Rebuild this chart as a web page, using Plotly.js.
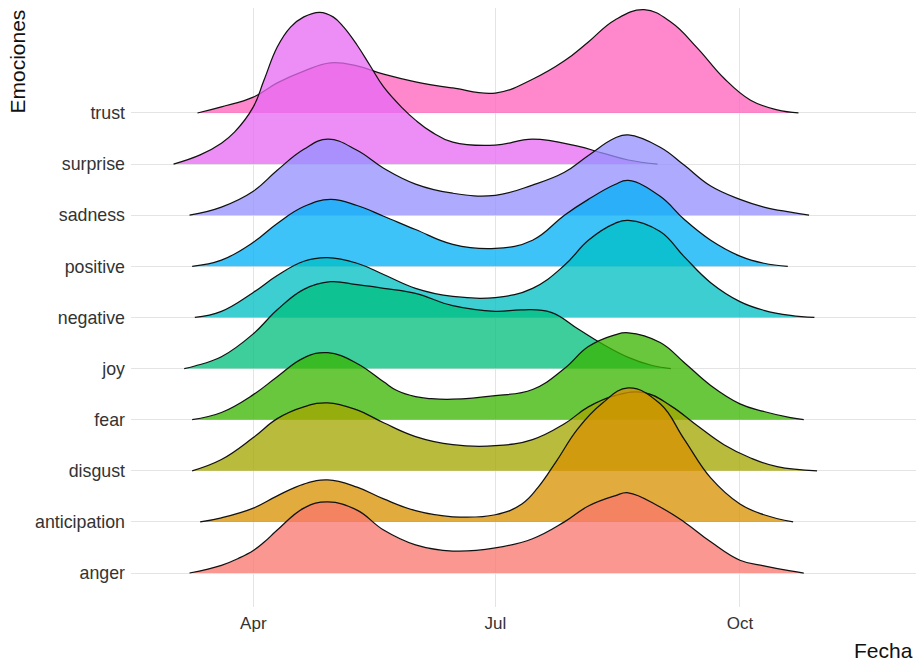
<!DOCTYPE html>
<html>
<head>
<meta charset="utf-8">
<script src="https://cdn.plot.ly/plotly-3.0.1.min.js"></script>
<style>html,body{margin:0;padding:0;background:#fff;}</style>
</head>
<body>
<div id="chart" style="width:916px;height:664px;"></div>
<script>
// Categories (bottom to top)
const emociones = ['anger','anticipation','disgust','fear','joy','negative','positive','sadness','surprise','trust'];
const colores = ['#F8766D','#D89000','#A3A500','#39B600','#00BF7D','#00BFC4','#00B0F6','#9590FF','#E76BF3','#FF62BC'];

// X axis ticks
const ticksFecha = ['2020-04-01','2020-07-01','2020-10-01'];
const etiquetasFecha = ['Apr','Jul','Oct'];

// Ridge densities (height in category units above each baseline)
const fechasAnger = ['2020-03-08','2020-03-20','2020-03-27','2020-04-01','2020-04-05','2020-04-10','2020-04-20','2020-04-29','2020-05-10','2020-05-20','2020-06-01','2020-06-15','2020-07-01','2020-07-15','2020-07-27','2020-08-05','2020-08-15','2020-08-20','2020-09-01','2020-09-10','2020-09-20','2020-10-01','2020-10-10','2020-10-20','2020-10-25'];
const densAnger = [0,0.15,0.30,0.44,0.60,0.84,1.27,1.39,1.23,0.84,0.55,0.43,0.49,0.67,1.00,1.31,1.51,1.57,1.29,1.00,0.61,0.25,0.14,0.04,0];

const fechasAnticipation = ['2020-03-12','2020-03-20','2020-04-01','2020-04-10','2020-04-20','2020-04-29','2020-05-10','2020-05-20','2020-06-01','2020-06-15','2020-07-01','2020-07-11','2020-07-17','2020-07-24','2020-08-01','2020-08-10','2020-08-20','2020-09-01','2020-09-10','2020-09-20','2020-10-01','2020-10-10','2020-10-21'];
const densAnticipation = [0,0.08,0.27,0.51,0.74,0.82,0.68,0.45,0.22,0.10,0.14,0.35,0.67,1.19,1.82,2.31,2.62,2.31,1.62,0.86,0.35,0.14,0];

const fechasDisgust = ['2020-03-09','2020-03-20','2020-04-01','2020-04-10','2020-04-20','2020-04-29','2020-05-10','2020-05-20','2020-06-01','2020-06-15','2020-07-01','2020-07-15','2020-07-27','2020-08-05','2020-08-15','2020-08-26','2020-09-05','2020-09-15','2020-09-25','2020-10-05','2020-10-15','2020-10-30'];
const densDisgust = [0,0.22,0.65,1.02,1.25,1.33,1.19,0.94,0.67,0.51,0.49,0.61,0.92,1.25,1.47,1.53,1.27,0.88,0.51,0.25,0.08,0];

const fechasFear = ['2020-03-09','2020-03-20','2020-04-01','2020-04-10','2020-04-20','2020-04-29','2020-05-10','2020-05-20','2020-05-25','2020-06-01','2020-06-07','2020-06-15','2020-07-01','2020-07-15','2020-07-27','2020-08-05','2020-08-15','2020-08-20','2020-09-01','2020-09-10','2020-09-20','2020-10-01','2020-10-10','2020-10-20','2020-10-25'];
const densFear = [0,0.14,0.49,0.84,1.21,1.31,1.10,0.74,0.57,0.45,0.41,0.40,0.47,0.59,1.00,1.43,1.66,1.70,1.51,1.12,0.67,0.31,0.16,0.04,0];

const fechasJoy = ['2020-03-06','2020-03-10','2020-03-20','2020-04-01','2020-04-10','2020-04-20','2020-04-30','2020-05-10','2020-05-20','2020-06-01','2020-06-15','2020-07-01','2020-07-11','2020-07-22','2020-08-01','2020-08-10','2020-08-20','2020-08-29','2020-09-05'];
const densJoy = [0,0.05,0.23,0.68,1.15,1.55,1.70,1.64,1.57,1.47,1.23,1.12,1.15,1.10,0.78,0.49,0.22,0.06,0];

const fechasNegative = ['2020-03-10','2020-03-20','2020-04-01','2020-04-10','2020-04-20','2020-04-29','2020-05-10','2020-05-20','2020-06-01','2020-06-15','2020-07-01','2020-07-15','2020-07-27','2020-08-05','2020-08-15','2020-08-20','2020-09-01','2020-09-10','2020-09-20','2020-10-01','2020-10-10','2020-10-20','2020-10-29'];
const densNegative = [0,0.12,0.49,0.82,1.10,1.17,1.06,0.84,0.57,0.41,0.39,0.57,1.02,1.51,1.84,1.90,1.68,1.19,0.68,0.31,0.14,0.04,0];

const fechasPositive = ['2020-03-09','2020-03-20','2020-04-01','2020-04-10','2020-04-20','2020-04-30','2020-05-10','2020-05-20','2020-06-01','2020-06-15','2020-07-01','2020-07-15','2020-07-27','2020-08-05','2020-08-15','2020-08-20','2020-09-01','2020-09-10','2020-09-20','2020-10-01','2020-10-10','2020-10-19'];
const densPositive = [0,0.12,0.47,0.84,1.17,1.31,1.19,0.98,0.72,0.43,0.35,0.51,1.00,1.31,1.60,1.68,1.37,0.92,0.51,0.20,0.06,0];

const fechasSadness = ['2020-03-08','2020-03-20','2020-04-01','2020-04-10','2020-04-20','2020-04-29','2020-05-10','2020-05-20','2020-06-01','2020-06-15','2020-07-01','2020-07-15','2020-07-27','2020-08-05','2020-08-15','2020-08-20','2020-09-01','2020-09-10','2020-09-20','2020-10-01','2020-10-10','2020-10-20','2020-10-27'];
const densSadness = [0,0.16,0.47,0.88,1.29,1.49,1.27,0.92,0.61,0.43,0.39,0.59,0.84,1.17,1.51,1.57,1.33,0.98,0.57,0.31,0.16,0.06,0];

const fechasSurprise = ['2020-03-02','2020-03-12','2020-03-20','2020-03-25','2020-04-01','2020-04-05','2020-04-10','2020-04-15','2020-04-20','2020-04-26','2020-05-01','2020-05-05','2020-05-10','2020-05-15','2020-05-20','2020-05-27','2020-06-01','2020-06-07','2020-06-15','2020-07-01','2020-07-15','2020-08-01','2020-08-10','2020-08-20','2020-08-31'];
const densSurprise = [0,0.18,0.41,0.63,1.12,1.64,2.29,2.68,2.88,2.97,2.88,2.68,2.33,1.92,1.51,1.10,0.86,0.63,0.43,0.37,0.49,0.35,0.22,0.08,0];

const fechasTrust = ['2020-03-11','2020-03-20','2020-04-01','2020-04-10','2020-04-20','2020-04-30','2020-05-10','2020-05-20','2020-06-01','2020-06-15','2020-07-01','2020-07-15','2020-07-27','2020-08-05','2020-08-15','2020-08-26','2020-09-05','2020-09-15','2020-09-25','2020-10-05','2020-10-15','2020-10-23'];
const densTrust = [0,0.12,0.31,0.59,0.82,0.98,0.92,0.76,0.61,0.49,0.39,0.66,1.02,1.39,1.82,2.02,1.78,1.27,0.68,0.25,0.06,0];

const fechas = [fechasAnger,fechasAnticipation,fechasDisgust,fechasFear,fechasJoy,fechasNegative,fechasPositive,fechasSadness,fechasSurprise,fechasTrust];
const densidades = [densAnger,densAnticipation,densDisgust,densFear,densJoy,densNegative,densPositive,densSadness,densSurprise,densTrust];

function rgba(hex, a) {
  const r = parseInt(hex.slice(1,3),16), g = parseInt(hex.slice(3,5),16), b = parseInt(hex.slice(5,7),16);
  return 'rgba(' + r + ',' + g + ',' + b + ',' + a + ')';
}

const traces = [];
// draw from top ridge (back) to bottom ridge (front)
for (let i = emociones.length - 1; i >= 0; i--) {
  const xs = fechas[i];
  const base = i + 1;
  traces.push({
    type: 'scatter', mode: 'lines',
    x: [xs[0], xs[xs.length - 1]], y: [base, base],
    line: {width: 0, color: 'rgba(0,0,0,0)'},
    hoverinfo: 'skip', showlegend: false
  });
  traces.push({
    type: 'scatter', mode: 'lines',
    x: xs, y: densidades[i].map(v => v + base),
    name: emociones[i],
    line: {color: '#111', width: 1.25, shape: 'spline', smoothing: 1.2},
    fill: 'tonexty', fillcolor: rgba(colores[i], 0.76),
    showlegend: false
  });
}

const fontFam = 'Liberation Sans, Arial, Helvetica, sans-serif';
const layout = {
  width: 916, height: 664,
  margin: {l: 131, r: 0, t: 8, b: 57},
  paper_bgcolor: '#ffffff', plot_bgcolor: '#ffffff',
  showlegend: false,
  font: {family: fontFam},
  xaxis: {
    type: 'date',
    range: ['2020-02-15', '2020-12-06 05:00'],
    tickmode: 'array', tickvals: ticksFecha, ticktext: etiquetasFecha,
    showgrid: true, gridcolor: '#e4e4e4', gridwidth: 1,
    zeroline: false, showline: false, ticks: '', ticklabelstandoff: 4,
    tickfont: {family: fontFam, size: 17, color: '#333'}
  },
  yaxis: {
    range: [0.335, 12.054],
    tickmode: 'array', tickvals: emociones.map((e, i) => i + 1), ticktext: emociones,
    showgrid: true, gridcolor: '#e4e4e4', gridwidth: 1,
    zeroline: false, showline: false, ticks: '', ticklabelstandoff: 5,
    tickfont: {family: fontFam, size: 17.8, color: '#333'}
  },
  annotations: [
    {text: 'Emociones', xref: 'paper', yref: 'paper', x: -0.1452, y: 0.9107,
     xanchor: 'center', yanchor: 'middle', textangle: -90, showarrow: false,
     font: {family: fontFam, size: 21, color: '#111'}},
    {text: 'Fecha', xref: 'paper', yref: 'paper', x: 0.9586, y: -0.0726,
     xanchor: 'center', yanchor: 'middle', showarrow: false,
     font: {family: fontFam, size: 21, color: '#111'}}
  ]
};

Plotly.newPlot('chart', traces, layout, {displayModeBar: false, staticPlot: true});
</script>
</body>
</html>
